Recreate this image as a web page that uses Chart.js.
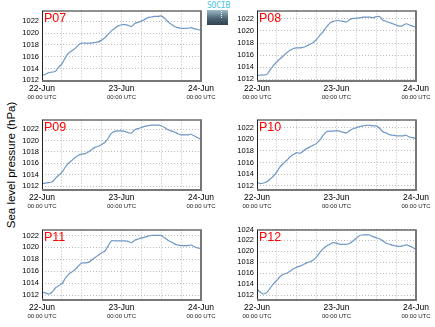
<!DOCTYPE html>
<html>
<head>
<meta charset="utf-8">
<script src="https://cdn.jsdelivr.net/npm/chart.js@4.4.0/dist/chart.umd.min.js"></script>
<style>
  body { margin: 0; background: #fff; width: 435px; height: 327px; position: relative; overflow: hidden; font-family: "Liberation Sans", Arial, sans-serif; }
  .panel { position: absolute; }
  #ylabel { position: absolute; left: 11px; top: 165px; transform: translate(-50%, -50%) rotate(-90deg); font-size: 11.5px; white-space: nowrap; color: #000; }
  #logo { position: absolute; left: 207px; top: 2px; width: 21px; height: 23px; }
  #logo .txt { font-size: 8px; line-height: 7px; color: #47c4de; text-align: center; letter-spacing: -0.2px; font-family: "DejaVu Sans Mono", monospace; }
  #logo .box { height: 15px; margin-top: 1px; background: linear-gradient(#9cbccb, #4c6676 55%, #2f3f4b); position: relative; }
  #logo .dots { position: absolute; left: 14px; top: 1px; width: 1px; height: 7px; border-left: 1px dotted #fff; }
</style>
</head>
<body>
<div id="ylabel">Sea level pressure (hPa)</div>
<div id="logo"><div class="txt">SOCIB</div><div class="box"><div class="dots"></div></div></div>
<script>
const hours = [0,1,2,3,4,5,6,7,8,9,10,11,12,13,14,15,16,17,18,19,20,21,22,23,24,25,26,27,28,29,30,31,32,33,34,35,36,37,38,39,40,41,42,43,44,45,46,47,48];

const p07 = [1012.9,1013.0,1013.3,1013.4,1013.5,1014.2,1014.8,1015.8,1016.6,1017.0,1017.4,1018.0,1018.3,1018.3,1018.3,1018.3,1018.4,1018.5,1018.8,1019.2,1019.8,1020.4,1020.8,1021.2,1021.4,1021.4,1021.3,1021.1,1021.6,1021.8,1022.0,1022.3,1022.6,1022.7,1022.8,1022.8,1022.9,1022.5,1021.9,1021.5,1021.1,1020.9,1020.8,1020.8,1020.8,1020.9,1020.7,1020.6,1020.4];
const p08 = [1012.6,1012.7,1012.7,1012.8,1013.6,1014.3,1014.9,1015.4,1015.9,1016.4,1016.8,1017.1,1017.2,1017.2,1017.3,1017.5,1017.8,1018.1,1018.6,1019.3,1019.9,1020.7,1021.3,1021.6,1021.7,1021.7,1021.6,1021.5,1021.9,1022.1,1022.1,1022.2,1022.3,1022.3,1022.3,1022.2,1022.4,1022.4,1021.8,1021.6,1021.4,1021.2,1021.0,1020.8,1020.9,1021.2,1021.0,1020.8,1020.6];
const p09 = [1012.4,1012.5,1012.6,1012.7,1013.3,1013.9,1014.4,1015.3,1016.0,1016.5,1017.0,1017.4,1017.6,1017.7,1018.0,1018.4,1018.8,1019.0,1019.3,1019.7,1020.4,1021.3,1021.6,1021.7,1021.7,1021.6,1021.4,1021.3,1021.9,1022.1,1022.3,1022.5,1022.6,1022.7,1022.7,1022.7,1022.6,1022.3,1021.9,1021.7,1021.5,1021.2,1021.0,1021.0,1021.0,1021.1,1020.8,1020.5,1020.2];
const p10 = [1012.6,1012.4,1012.5,1012.7,1013.2,1013.7,1014.4,1015.3,1015.9,1016.4,1017.0,1017.4,1017.7,1017.6,1018.0,1018.4,1018.7,1019.0,1019.3,1019.9,1020.7,1021.3,1021.4,1021.4,1021.5,1021.4,1021.2,1021.1,1021.5,1021.8,1022.0,1022.2,1022.3,1022.4,1022.4,1022.3,1022.3,1021.9,1021.3,1021.1,1020.8,1020.7,1020.6,1020.6,1020.6,1020.7,1020.4,1020.3,1020.1];
const p11 = [1012.5,1012.4,1012.2,1012.5,1013.2,1013.6,1013.9,1014.8,1015.5,1015.9,1016.3,1016.9,1017.4,1017.4,1017.5,1017.9,1018.3,1018.7,1019.1,1019.4,1020.3,1021.1,1021.1,1021.1,1021.1,1021.1,1021.0,1020.8,1021.2,1021.4,1021.6,1021.7,1021.9,1022.0,1022.0,1022.0,1022.0,1021.6,1021.2,1020.9,1020.6,1020.4,1020.3,1020.3,1020.3,1020.4,1020.1,1019.9,1019.8];
const p12 = [1013.1,1012.5,1012.2,1012.5,1013.3,1014.1,1014.7,1015.4,1015.8,1016.0,1016.4,1016.8,1017.1,1017.3,1017.6,1017.9,1018.1,1018.4,1019.0,1019.8,1020.5,1021.0,1021.3,1021.6,1021.5,1021.3,1021.3,1021.3,1021.5,1021.9,1022.4,1022.9,1023.0,1023.0,1023.0,1022.7,1022.5,1022.3,1021.9,1021.5,1021.3,1021.1,1021.0,1020.9,1021.0,1021.2,1021.0,1020.7,1020.3];

const panelNames = ["P07", "P08", "P09", "P10", "P11", "P12"];
const series = [p07, p08, p09, p10, p11, p12];
const yTicks = [1012, 1014, 1016, 1018, 1020, 1022, 1024];
const dayLabels = ["22-Jun", "23-Jun", "24-Jun"];
const timeLabel = "00:00 UTC";
const yMins = [1011.9, 1011.7, 1011.3, 1011.3, 1011.2, 1011.1];
const yMaxs = [1023.8, 1023.4, 1023.7, 1023.4, 1023.0, 1024.0];

// panel geometry (plot box)
const colLeft = [42, 257];
const rowTop = [9, 118, 228];
const plotW = 159, plotH = 72;
const padL = 40, padT = 6, padR = 16, padB = 24;
const fontFamily = '"Liberation Sans", Arial, sans-serif';

const framePlugin = {
  id: "frame",
  afterDraw(chart, args, opts) {
    const { ctx, chartArea: a } = chart;
    ctx.save();
    ctx.strokeStyle = "#222";
    ctx.lineWidth = 1;
    ctx.strokeRect(a.left + 0.5, a.top + 0.5, a.right - a.left - 1, a.bottom - a.top - 1);
    ctx.strokeStyle = "#777";
    ctx.lineWidth = 2;
    ctx.beginPath();
    ctx.moveTo(a.right, a.top);
    ctx.lineTo(a.right, a.bottom);
    ctx.lineTo(a.left, a.bottom);
    ctx.stroke();
    ctx.fillStyle = "#ff0000";
    ctx.font = "12.5px " + fontFamily;
    ctx.textBaseline = "top";
    ctx.fillText(opts.name, a.left + 2, a.top + 2);
    ctx.restore();
  }
};

series.forEach((vals, i) => {
  const col = i % 2, row = Math.floor(i / 2);
  const div = document.createElement("div");
  div.className = "panel";
  const w = plotW + padL + padR, h = plotH + padT + padB;
  div.style.left = (colLeft[col] - padL) + "px";
  div.style.top = (rowTop[row] - padT) + "px";
  div.style.width = w + "px";
  div.style.height = h + "px";
  const canvas = document.createElement("canvas");
  canvas.width = w;
  canvas.height = h;
  div.appendChild(canvas);
  document.body.appendChild(div);

  new Chart(canvas.getContext("2d"), {
    type: "line",
    data: {
      datasets: [{
        data: hours.map((hr, k) => ({ x: hr, y: vals[k] })),
        borderColor: "#6d97c5",
        borderWidth: 1.2,
        pointRadius: 0,
        tension: 0.25,
        fill: false
      }]
    },
    options: {
      responsive: false,
      animation: false,
      layout: { padding: { left: 0, top: padT, right: padR, bottom: 0 } },
      plugins: {
        legend: { display: false },
        tooltip: { enabled: false },
        frame: { name: panelNames[i] }
      },
      scales: {
        x: {
          type: "linear",
          min: 0,
          max: 48,
          ticks: {
            stepSize: 6,
            autoSkip: false,
            maxRotation: 0,
            padding: 3,
            color: "#000",
            font: { size: 8.5, family: fontFamily },
            callback: v => (v % 24 === 0 ? dayLabels[v / 24] : "")
          },
          grid: { color: "#bbb", drawTicks: false },
          border: { display: false, dash: [1, 2] },
          afterFit: s => { s.height = 12; }
        },
        x2: {
          type: "linear",
          position: "bottom",
          min: 0,
          max: 48,
          ticks: {
            stepSize: 24,
            autoSkip: false,
            maxRotation: 0,
            padding: 1,
            color: "#222",
            font: { size: 6, family: fontFamily },
            callback: () => timeLabel
          },
          grid: { display: false, drawTicks: false },
          border: { display: false },
          afterFit: s => { s.height = 12; }
        },
        y: {
          min: yMins[i],
          max: yMaxs[i],
          afterBuildTicks: s => {
            s.ticks = yTicks.filter(v => v >= s.min && v <= s.max).map(v => ({ value: v }));
          },
          afterFit: s => { s.width = padL; },
          ticks: {
            autoSkip: false,
            padding: 3,
            color: "#000",
            font: { size: 7.5, family: fontFamily },
            callback: v => String(v)
          },
          grid: { color: "#bbb", drawTicks: false },
          border: { display: false, dash: [1, 2] }
        }
      }
    },
    plugins: [framePlugin]
  });
});
</script>
</body>
</html>
